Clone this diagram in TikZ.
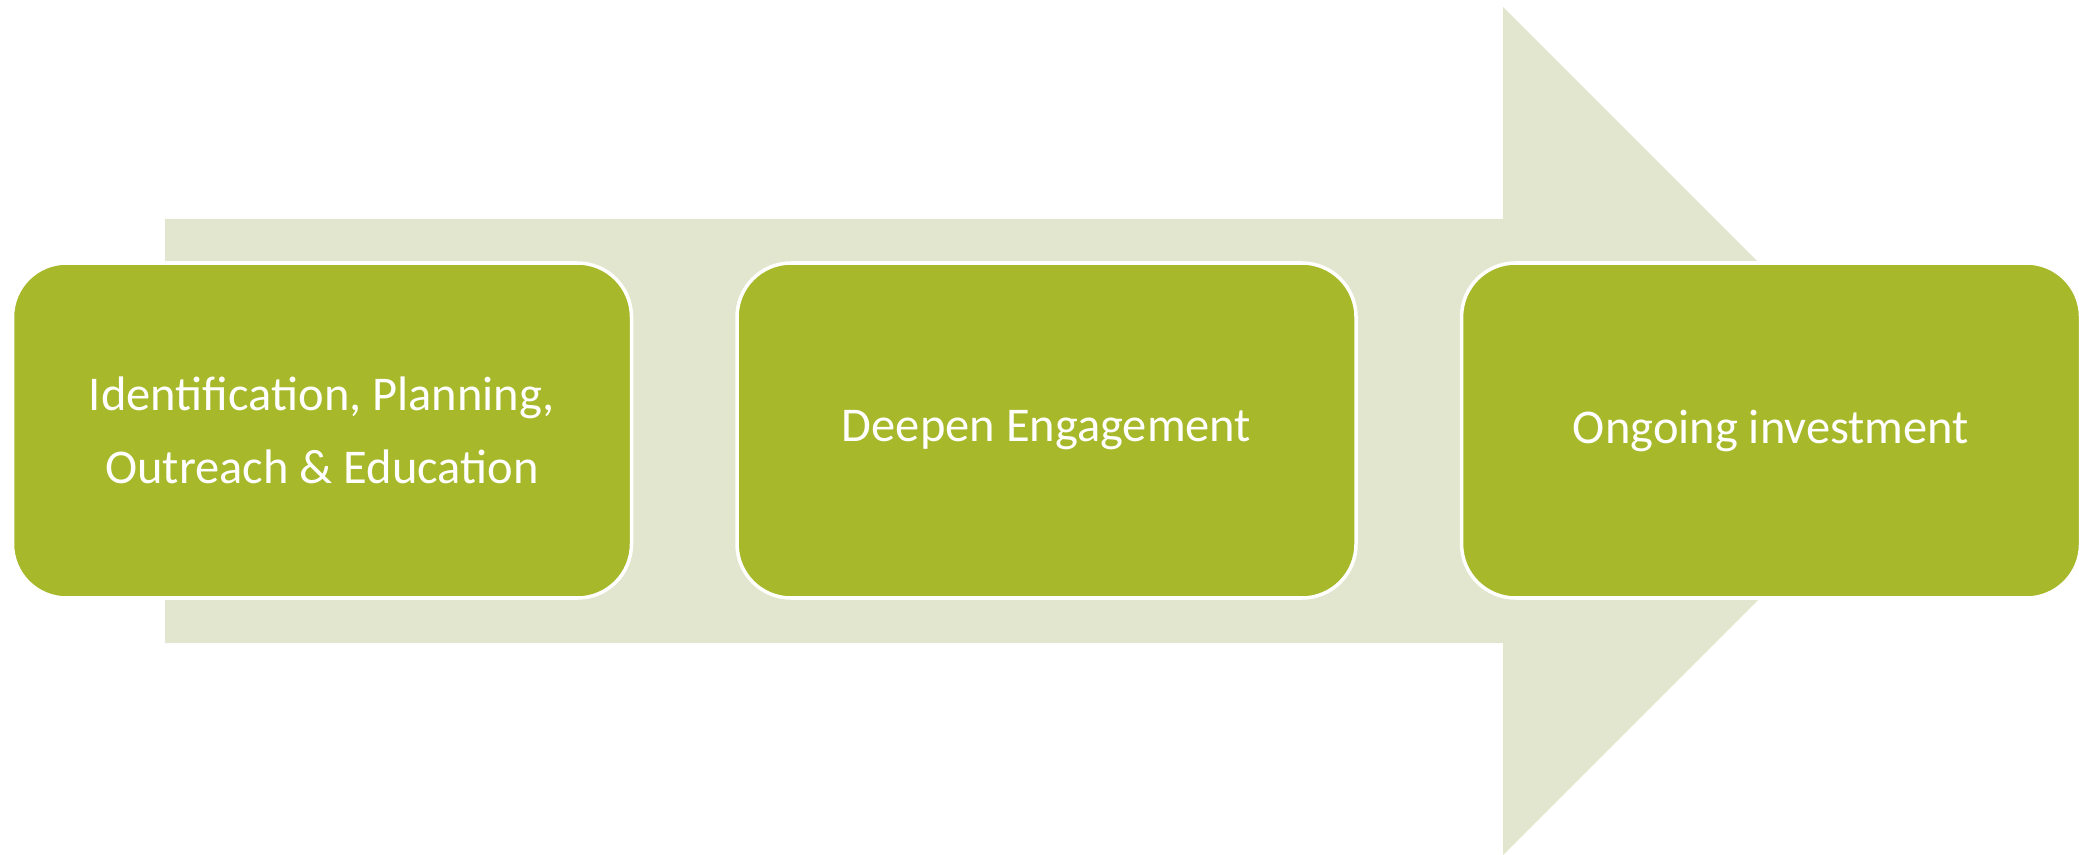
\documentclass[tikz,border=0pt]{standalone}
\usepackage{fontspec}
\setmainfont{Carlito}
\usetikzlibrary{positioning}
\definecolor{stagegreen}{RGB}{167,184,42}
\definecolor{arrowfill}{RGB}{226,230,206}
\begin{document}
\begin{tikzpicture}[
		stage/.style={rectangle,rounded corners=0.54cm,fill=stagegreen,draw=white,line width=1pt,
			minimum width=6.19cm,minimum height=3.35cm,text=white,align=center,
			font=\fontsize{13.8}{20.7}\selectfont}
	]
		\useasboundingbox (0,0) rectangle (20.79,8.54);
		\fill[arrowfill] (1.65,2.11) -- (15.03,2.11) -- (15.03,-0.01) -- (19.27,4.23)
			-- (15.03,8.47) -- (15.03,6.35) -- (1.65,6.35) -- cycle;
		\node at (3.22,4.235) [stage] (s1) {Identification, Planning,\\Outreach \& Education};
		\node [stage,right=1.02cm of s1] (s2) {Deepen Engagement};
		\node [stage,right=1.02cm of s2] (s3) {Ongoing investment};
	\end{tikzpicture}
\end{document}
